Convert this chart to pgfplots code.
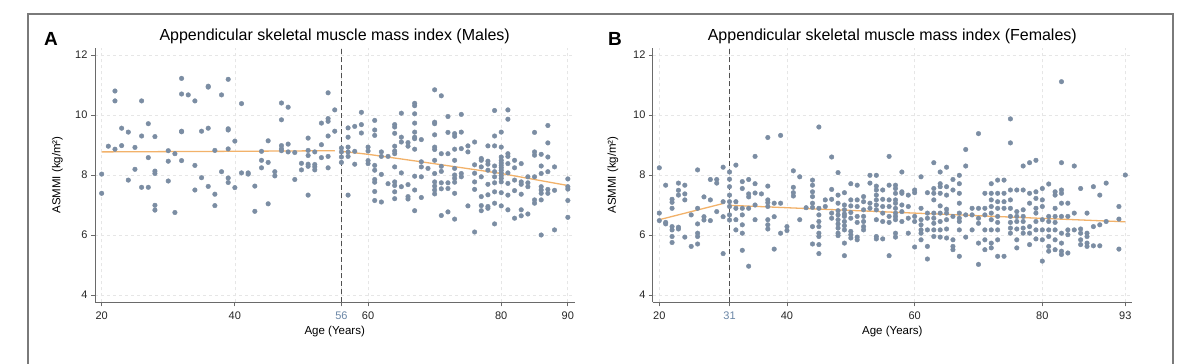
\documentclass[border=0pt]{standalone}
\usepackage{pgfplots}
\pgfplotsset{compat=1.18}
\usepackage{fontspec}
\setmainfont{Liberation Sans}
\definecolor{ptcol}{HTML}{7B8DA3}
\definecolor{fitcol}{HTML}{F2B26A}
\definecolor{axcol}{HTML}{6A6A6A}
\definecolor{gridcol}{HTML}{E6E6E6}
\definecolor{cutcol}{HTML}{6A86A6}
\definecolor{framecol}{HTML}{7A7A7A}
\definecolor{dashcol}{HTML}{505050}
\pgfplotsset{
 myax/.style={
  scale only axis, height=255pt, anchor=south west,
  axis lines=left, axis line style={-, axcol, line width=0.9pt},
  ymin=3.75, ymax=12.25, ytick={4,6,8,10,12},
  tick align=outside, major tick length=4pt,
  every tick/.style={axcol, line width=0.8pt},
  grid=major, major grid style={gridcol, dash pattern=on 3pt off 3pt, line width=0.7pt},
  tick label style={font=\fontsize{11}{13}\selectfont, text=black!85},
  /pgf/number format/assume math mode=true,
  xticklabel style={yshift=-1.5pt},
  clip=false,
 },
 pts/.style={only marks, mark=*, mark size=2.3pt, mark options={ptcol}},
 fit/.style={fitcol, line width=1.3pt, no marks},
 cut/.style={dashcol, line width=1pt, dash pattern=on 5pt off 3pt, no marks},
}
\begin{document}
\begin{tikzpicture}
\useasboundingbox (0pt,0pt) rectangle (1200pt,364pt);
\fill[white] (0pt,0pt) rectangle (1200pt,364pt);
\draw[framecol, line width=1.6pt] (28pt,-10pt) -- (28pt,350pt) -- (1173pt,350pt) -- (1173pt,-10pt);

% ---------------- Panel A ----------------
\begin{axis}[myax, at={(95pt,61.5pt)}, width=479.5pt, xmin=19, xmax=91,
  xtick={20,40,56,60,80,90},
  xticklabels={20,40,{\color{cutcol}56},60,80,90}]
\addplot[cut] coordinates {(56,3.75) (56,12.25)};
\addplot[pts] table[row sep=\\] {
x y\\
20 8.03\\ 20 7.39\\ 21 8.96\\ 22 10.80\\ 22 10.47\\ 22 8.86\\ 23 9.56\\ 23 8.98\\
24 9.43\\ 24 7.83\\ 25 8.92\\ 25 8.19\\ 26 10.47\\ 26 9.30\\ 26 7.59\\ 27 9.71\\
27 8.58\\ 27 7.59\\ 28 9.28\\ 28 8.13\\ 28 8.05\\ 28 6.99\\ 28 6.83\\ 30 8.81\\
30 8.46\\ 30 7.80\\ 31 8.71\\ 31 6.75\\ 32 11.22\\ 32 10.70\\ 32 9.46\\ 32 9.44\\
32 8.48\\ 33 10.67\\ 34 10.47\\ 34 8.32\\ 34 7.50\\ 35 9.46\\ 35 7.91\\ 36 10.96\\
36 10.93\\ 36 9.56\\ 36 7.62\\ 37 8.82\\ 37 7.36\\ 37 6.98\\ 38 10.67\\ 38 8.11\\
39 11.19\\ 39 9.54\\ 39 9.50\\ 39 8.87\\ 39 7.90\\ 39 7.75\\ 40 9.13\\ 40 7.58\\
41 10.38\\ 41 8.07\\ 42 8.07\\ 42 8.03\\ 43 7.63\\ 43 6.79\\ 44 8.79\\ 44 8.49\\
44 8.24\\ 45 9.14\\ 45 8.42\\ 45 7.04\\ 46 8.11\\ 46 7.97\\ 47 10.40\\ 47 9.84\\
47 8.98\\ 47 8.87\\ 47 8.81\\ 48 10.26\\ 48 9.03\\ 48 8.77\\ 49 8.75\\ 49 7.85\\
50 8.39\\ 50 8.17\\ 51 9.23\\ 51 8.82\\ 51 8.65\\ 51 8.36\\ 51 8.29\\ 51 7.33\\
52 8.77\\ 52 8.35\\ 52 8.27\\ 52 8.17\\ 53 9.73\\ 53 9.01\\ 53 8.58\\ 54 10.74\\
54 9.88\\ 54 9.79\\ 54 9.30\\ 54 8.62\\ 54 8.24\\ 55 10.17\\ 55 9.46\\
56 8.90\\ 56 8.77\\ 56 8.60\\ 56 8.42\\ 57 9.57\\ 57 9.26\\ 57 8.93\\ 57 8.77\\
57 8.62\\ 57 7.33\\ 58 9.62\\ 58 8.79\\ 58 8.36\\ 59 10.09\\ 59 9.68\\ 59 9.40\\
60 8.93\\ 60 8.80\\ 60 8.48\\ 60 8.38\\ 61 9.82\\ 61 9.50\\ 61 9.32\\ 61 8.32\\
61 8.16\\ 61 7.85\\ 61 7.76\\ 61 7.45\\ 61 7.15\\ 62 8.77\\ 62 8.62\\ 62 8.02\\
62 7.10\\ 63 8.62\\ 63 7.71\\ 64 9.68\\ 64 9.60\\ 64 9.39\\ 64 8.96\\ 64 8.80\\
64 8.71\\ 64 8.27\\ 64 7.77\\ 64 7.65\\ 64 7.44\\ 64 7.21\\ 65 10.06\\ 65 9.26\\
65 9.10\\ 65 8.07\\ 65 7.61\\ 66 9.08\\ 66 8.96\\ 66 7.68\\ 66 7.28\\ 66 7.20\\
67 10.39\\ 67 10.31\\ 67 10.04\\ 67 9.73\\ 67 9.43\\ 67 9.26\\ 67 9.21\\ 67 8.86\\
67 7.96\\ 67 7.50\\ 67 6.81\\ 68 9.18\\ 68 8.44\\ 68 8.27\\ 68 7.94\\ 68 7.25\\
69 8.22\\ 70 10.84\\ 70 9.76\\ 70 9.71\\ 70 9.34\\ 70 8.93\\ 70 8.85\\ 70 8.49\\
70 8.05\\ 70 7.77\\ 70 7.63\\ 70 7.50\\ 70 7.37\\ 71 10.64\\ 71 8.71\\ 71 8.29\\
71 8.12\\ 71 7.74\\ 71 7.54\\ 71 6.65\\ 72 9.95\\ 72 9.42\\ 72 8.71\\ 72 7.74\\
72 7.55\\ 72 6.77\\ 73 9.38\\ 73 9.29\\ 73 8.86\\ 73 8.49\\ 73 8.22\\ 73 8.00\\
73 7.89\\ 73 7.76\\ 73 7.39\\ 73 6.53\\ 74 10.02\\ 74 9.43\\ 74 8.88\\ 74 8.05\\
74 7.94\\ 75 8.97\\ 75 8.77\\ 75 6.97\\ 76 9.10\\ 76 8.34\\ 76 8.06\\ 76 7.77\\
76 7.52\\ 76 6.10\\ 77 8.55\\ 77 8.49\\ 77 8.27\\ 77 7.94\\ 77 7.28\\ 77 6.98\\
77 6.81\\ 78 8.97\\ 78 8.46\\ 78 8.36\\ 78 8.16\\ 78 7.69\\ 78 7.34\\ 78 6.95\\
78 6.89\\ 79 10.15\\ 79 9.30\\ 79 8.97\\ 79 8.30\\ 79 8.11\\ 79 7.94\\ 79 7.74\\
79 7.44\\ 79 7.06\\ 79 6.37\\ 80 9.43\\ 80 8.93\\ 80 8.60\\ 80 8.49\\ 80 8.40\\
80 8.32\\ 80 8.24\\ 80 8.16\\ 80 8.07\\ 80 7.98\\ 80 7.89\\ 80 7.77\\ 80 7.41\\
80 6.97\\ 81 10.17\\ 81 9.86\\ 81 8.71\\ 81 8.62\\ 81 8.38\\ 81 8.07\\ 81 7.72\\
81 7.33\\ 81 6.84\\ 82 8.49\\ 82 8.24\\ 82 7.83\\ 82 7.48\\ 82 6.56\\ 83 8.38\\
83 7.77\\ 83 7.69\\ 83 7.36\\ 83 6.84\\ 83 6.64\\ 84 7.94\\ 84 7.74\\ 84 7.61\\
84 6.70\\ 85 9.42\\ 85 8.77\\ 85 8.66\\ 85 7.94\\ 85 7.17\\ 85 7.06\\ 86 8.69\\
86 8.30\\ 86 8.05\\ 86 7.61\\ 86 7.50\\ 86 7.39\\ 86 7.17\\ 86 6.00\\ 87 9.65\\
87 9.07\\ 87 8.60\\ 87 8.11\\ 87 7.52\\ 87 7.39\\ 88 8.27\\ 88 7.49\\ 88 6.17\\
90 7.87\\ 90 7.61\\ 90 7.53\\ 90 7.15\\ 90 6.59\\
};
\addplot[fit] coordinates {(20,8.77) (40,8.79) (55,8.81)};
\addplot[fit] coordinates {(56,8.79) (60,8.69) (68,8.44) (80,8.05) (90,7.65)};
\end{axis}
\node[anchor=base, font=\fontsize{16}{19}\selectfont] at (334.7pt,323pt) {Appendicular skeletal muscle mass index (Males)};
\node[anchor=base, font=\bfseries\fontsize{19}{22}\selectfont] at (51pt,318pt) {A};
\node[anchor=base, font=\fontsize{11.5}{13}\selectfont] at (334.7pt,29.5pt) {Age (Years)};
\node[rotate=90, font=\fontsize{11.5}{13}\selectfont] at (57.4pt,189pt) {ASMMI (kg/m²)};

% ---------------- Panel B ----------------
\begin{axis}[myax, at={(652.9pt,61.5pt)}, width=478.8pt, xmin=19, xmax=94,
  xtick={20,31,40,60,80,93},
  xticklabels={20,{\color{cutcol}31},40,60,80,93}]
\addplot[cut] coordinates {(31,3.75) (31,12.25)};
\addplot[pts] table[row sep=\\] {
x y\\
20 8.24\\ 20 6.73\\ 20 6.48\\ 21 7.66\\ 21 6.42\\ 21 6.37\\
22 7.19\\ 22 7.09\\ 22 6.89\\ 22 6.28\\ 22 6.17\\ 22 5.95\\ 22 5.75\\
23 7.73\\ 23 7.49\\ 23 7.33\\ 23 6.26\\ 23 6.20\\ 24 7.66\\ 24 7.37\\ 24 7.17\\ 24 5.93\\
25 6.67\\ 25 5.62\\ 26 8.17\\ 26 6.89\\ 26 6.37\\ 26 6.06\\ 26 5.95\\ 26 5.70\\
27 7.27\\ 27 6.61\\ 27 6.50\\ 28 7.85\\ 28 7.17\\ 28 6.48\\ 29 7.85\\ 29 7.73\\ 29 6.78\\
30 8.26\\ 30 7.11\\ 30 6.61\\ 30 5.38\\
31 8.10\\ 31 7.86\\ 31 7.61\\ 31 7.33\\ 31 7.11\\ 31 6.95\\ 31 6.67\\ 31 6.50\\
32 8.33\\ 32 7.11\\ 32 6.89\\ 32 6.51\\ 32 6.17\\
33 7.78\\ 33 7.55\\ 33 6.89\\ 33 6.67\\ 33 6.34\\ 33 6.06\\ 33 5.49\\
34 7.85\\ 34 7.37\\ 34 7.27\\ 34 6.89\\ 34 4.96\\ 35 8.62\\ 35 7.71\\ 35 7.40\\ 35 7.00\\ 35 6.51\\
36 7.37\\ 37 9.25\\ 37 7.63\\ 37 7.17\\ 37 7.08\\ 37 6.95\\ 37 6.51\\ 37 6.34\\ 37 6.20\\
38 7.06\\ 38 6.61\\ 38 5.53\\ 39 9.32\\ 39 7.06\\ 39 6.06\\ 40 6.28\\ 40 6.15\\
41 8.14\\ 41 7.59\\ 41 7.41\\ 41 7.30\\ 42 7.94\\ 42 6.51\\ 43 6.91\\
44 7.83\\ 44 7.66\\ 44 7.44\\ 44 7.28\\ 44 7.06\\ 44 6.92\\ 44 6.28\\ 44 5.70\\
45 9.60\\ 45 6.89\\ 45 6.67\\ 45 6.45\\ 45 6.28\\ 45 6.06\\ 45 5.95\\ 45 5.68\\ 45 5.38\\
46 7.17\\ 46 6.95\\ 47 8.60\\ 47 7.52\\ 47 7.19\\ 47 6.73\\ 47 6.56\\
48 8.08\\ 48 7.33\\ 48 7.06\\ 48 6.81\\ 48 6.67\\ 48 6.51\\ 48 6.37\\ 48 6.23\\ 48 6.06\\ 48 5.98\\
49 7.41\\ 49 7.00\\ 49 6.84\\ 49 6.70\\ 49 6.62\\ 49 6.45\\ 49 6.31\\ 49 6.17\\ 49 5.73\\ 49 5.31\\
50 7.71\\ 50 7.17\\ 50 6.97\\ 50 6.75\\ 50 6.56\\ 50 6.12\\ 50 6.01\\ 50 5.90\\
51 7.66\\ 51 7.17\\ 51 6.95\\ 51 6.62\\ 51 6.42\\ 51 5.93\\ 51 5.84\\
52 7.28\\ 52 7.11\\ 52 6.84\\ 52 6.62\\ 52 6.45\\ 52 6.28\\ 52 6.17\\
53 7.99\\ 53 7.73\\ 53 7.06\\ 53 6.89\\
54 7.99\\ 54 7.63\\ 54 7.50\\ 54 7.33\\ 54 7.17\\ 54 7.00\\ 54 6.84\\ 54 6.51\\ 54 5.95\\ 54 5.87\\
55 7.50\\ 55 7.19\\ 55 6.95\\ 55 6.73\\ 55 6.45\\ 55 5.87\\
56 8.62\\ 56 7.66\\ 56 7.17\\ 56 6.95\\ 56 6.62\\ 56 6.42\\ 56 5.31\\
57 7.66\\ 57 7.55\\ 57 7.39\\ 57 7.17\\ 57 7.06\\ 57 6.89\\ 57 6.73\\ 57 6.62\\ 57 6.51\\ 57 6.06\\ 57 5.93\\
58 8.10\\ 58 7.44\\ 58 7.39\\ 58 7.00\\ 58 6.78\\ 58 6.45\\
59 7.33\\ 59 6.95\\ 59 6.56\\ 59 6.06\\ 60 7.50\\ 60 7.41\\ 60 6.62\\ 60 6.45\\ 60 5.60\\
61 7.94\\ 61 6.89\\ 61 6.51\\ 61 6.34\\ 61 6.17\\ 61 6.06\\ 61 5.84\\
62 7.41\\ 62 6.73\\ 62 6.56\\ 62 6.17\\ 62 5.62\\ 62 5.20\\
63 8.41\\ 63 7.55\\ 63 7.39\\ 63 7.17\\ 63 6.73\\ 63 6.56\\ 63 6.39\\ 63 6.17\\ 63 5.95\\
64 8.10\\ 64 7.71\\ 64 7.61\\ 64 7.39\\ 64 6.97\\ 64 6.73\\ 64 6.45\\ 64 6.17\\ 64 5.93\\
65 8.26\\ 65 7.61\\ 65 7.33\\ 65 6.86\\ 65 6.73\\ 65 6.51\\ 65 6.20\\ 65 5.90\\
66 7.85\\ 66 7.50\\ 66 6.62\\ 66 5.84\\ 66 5.62\\ 66 5.51\\
67 7.99\\ 67 7.71\\ 67 7.39\\ 67 7.06\\ 67 6.73\\ 67 6.56\\ 67 6.45\\ 67 6.17\\ 67 5.29\\
68 8.85\\ 68 8.30\\ 68 6.67\\ 68 5.93\\ 69 6.89\\ 69 6.67\\ 69 6.17\\
70 9.38\\ 70 6.89\\ 70 6.56\\ 70 6.39\\ 70 5.73\\ 70 5.02\\
71 7.39\\ 71 6.89\\ 71 6.67\\ 71 6.17\\ 71 5.84\\ 71 5.51\\
72 7.71\\ 72 7.39\\ 72 7.17\\ 72 6.95\\ 72 6.73\\ 72 6.51\\ 72 6.17\\ 72 5.73\\ 72 5.57\\
73 7.83\\ 73 7.39\\ 73 7.11\\ 73 6.89\\ 73 6.62\\ 73 6.42\\ 73 6.17\\ 73 5.84\\ 73 5.29\\
74 7.83\\ 74 7.39\\ 74 7.11\\ 74 6.89\\ 74 5.29\\
75 9.87\\ 75 9.07\\ 75 7.50\\ 75 7.17\\ 75 6.89\\ 75 6.62\\ 75 6.42\\ 75 6.23\\ 75 6.06\\
76 7.50\\ 76 6.78\\ 76 6.62\\ 76 6.45\\ 76 6.20\\ 76 5.84\\ 76 5.57\\
77 8.30\\ 77 7.50\\ 77 6.84\\ 77 6.62\\ 77 6.45\\ 77 6.23\\ 77 6.06\\
78 8.41\\ 78 7.39\\ 78 7.06\\ 78 6.28\\ 78 6.06\\ 78 5.68\\
79 8.49\\ 79 7.44\\ 79 7.22\\ 79 6.89\\ 79 6.73\\ 79 6.45\\ 79 6.17\\ 79 5.87\\
80 7.55\\ 80 7.17\\ 80 6.95\\ 80 6.51\\ 80 6.17\\ 80 5.84\\ 80 5.13\\
81 7.70\\ 81 6.62\\ 81 6.45\\ 81 6.17\\ 81 5.95\\ 81 5.62\\ 81 5.46\\
82 7.44\\ 82 7.33\\ 82 6.89\\ 82 6.62\\ 82 6.42\\ 82 6.17\\ 82 5.84\\ 82 5.51\\
83 11.11\\ 83 8.41\\ 83 7.50\\ 83 7.39\\ 83 7.06\\ 83 6.62\\ 83 6.06\\ 83 5.73\\ 83 5.46\\ 83 5.35\\
84 7.06\\ 84 6.62\\ 84 6.17\\ 84 6.01\\ 84 5.40\\ 85 8.30\\ 85 6.73\\ 85 6.17\\
86 7.55\\ 86 6.20\\ 86 6.06\\ 86 5.84\\ 86 5.68\\
87 6.73\\ 87 6.06\\ 87 5.95\\ 87 5.73\\ 87 5.62\\ 88 7.61\\ 88 6.28\\ 88 5.64\\
89 7.33\\ 89 6.34\\ 89 5.64\\ 90 7.73\\ 90 6.45\\ 92 6.95\\ 92 6.53\\ 92 5.53\\ 93 8.00\\
};
\addplot[fit] coordinates {(20,6.51) (30,7.05)};
\addplot[fit] coordinates {(31,6.99) (60,6.73) (93,6.44)};
\end{axis}
\node[anchor=base, font=\fontsize{16}{19}\selectfont] at (892.3pt,323pt) {Appendicular skeletal muscle mass index (Females)};
\node[anchor=base, font=\bfseries\fontsize{19}{22}\selectfont] at (615pt,318pt) {B};
\node[anchor=base, font=\fontsize{11.5}{13}\selectfont] at (892.3pt,29.5pt) {Age (Years)};
\node[rotate=90, font=\fontsize{11.5}{13}\selectfont] at (613pt,189pt) {ASMMI (kg/m²)};
\end{tikzpicture}
\end{document}
